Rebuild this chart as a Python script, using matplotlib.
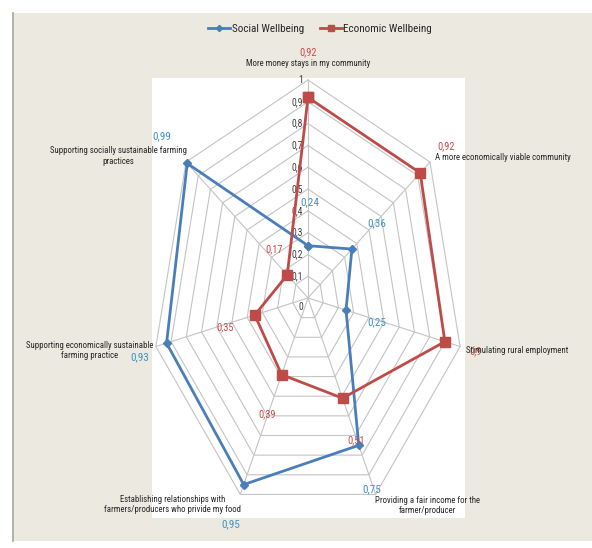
import numpy as np
import matplotlib
matplotlib.use("Agg")
import matplotlib.pyplot as plt
from matplotlib.patches import Rectangle
from matplotlib.lines import Line2D
from matplotlib import font_manager

avail = {f.name for f in font_manager.fontManager.ttflist}
fam = [f for f in ['Liberation Sans Narrow', 'DejaVu Sans Condensed', 'Roboto Condensed',
                   'Open Sans Condensed'] if f in avail]
plt.rcParams['font.family'] = fam + ['DejaVu Sans']

categories = [
    "More money stays in my community",
    "A more economically viable community",
    "Stimulating rural employment",
    "Providing a fair income for the\nfarmer/producer",
    "Establishing relationships with\nfarmers/producers who privide my food",
    "Supporting economically sustainable\nfarming practice",
    "Supporting socially sustainable farming\npractices",
]
social = [0.24, 0.36, 0.25, 0.75, 0.95, 0.93, 0.99]
economic = [0.92, 0.92, 0.90, 0.51, 0.39, 0.35, 0.17]
series_names = ["Social Wellbeing", "Economic Wellbeing"]
r_ticks = [0, 0.1, 0.2, 0.3, 0.4, 0.5, 0.6, 0.7, 0.8, 0.9, 1.0]

# label offsets (pixels)
social_lbl_off = [(2, 43), (25, 26), (31, -12), (13, -44), (-13, -40), (-27, -14), (-26, 27)]
econ_lbl_off = [(0, 45), (26, 27), (31, -10), (14, -42), (-14, -40), (-30, -12), (-13, 26)]
cat_lbl_off = [((0, 17), 'center'), ((5, 5), 'left'), ((6, -4), 'left'),
               ((52, -11), 'center'), ((-68, -10), 'center'), ((-66, -4), 'center'),
               ((-68, 6), 'center')]

W, H = 592, 548
fig = plt.figure(figsize=(W / 100, H / 100), dpi=100)
fig.patch.set_facecolor('white')

def fx(x):
    return x / W

def fy(y):
    return 1 - y / H

beige = '#ECE9E0'
fig.patches.append(Rectangle((fx(12), fy(541)), fx(592) - fx(12), fy(13) - fy(541),
                             transform=fig.transFigure, facecolor=beige, edgecolor='none', zorder=-5))
fig.lines.append(Line2D([fx(12.5), fx(12.5)], [fy(541), fy(13)], transform=fig.transFigure,
                        color='#A8A8A0', lw=1.2, zorder=-4))
fig.patches.append(Rectangle((fx(152), fy(518)), fx(465) - fx(152), fy(78) - fy(518),
                             transform=fig.transFigure, facecolor='white', edgecolor='none', zorder=-4))

cx, cy, sx, sy = 308, 298, 156, 218
ax = fig.add_axes([fx(cx - sx), fy(cy + sy), fx(2 * sx), fy(cy - sy) - fy(cy + sy)],
                  projection='polar')
ax.set_aspect('auto')
ax.set_theta_zero_location('N')
ax.set_theta_direction(-1)
ax.set_ylim(0, 1)
ax.grid(False)
ax.set_xticks([])
ax.set_yticks([])
ax.spines['polar'].set_visible(False)
ax.patch.set_visible(False)

n = len(categories)
theta = np.arange(n) * 2 * np.pi / n
theta_c = np.append(theta, theta[0])

grid_col = '#C4C4C4'
for r in r_ticks[1:]:
    ax.plot(theta_c, [r] * (n + 1), color=grid_col, lw=0.8, zorder=1, clip_on=False)
for t in theta:
    ax.plot([t, t], [0, 1], color=grid_col, lw=0.8, zorder=1, clip_on=False)

for r in r_ticks:
    lab = ('%g' % r).replace('.', ',')
    ax.annotate(lab, xy=(0, r), xytext=(-5, -9 if r == 0 else 0), textcoords='offset pixels',
                ha='right', va='center', fontsize=7, color='#404040', zorder=3,
                annotation_clip=False)

blue = '#4A7EBB'
red = '#BE4B48'
blue_lbl = '#3E93C4'
red_lbl = '#CC4A4A'

ax.plot(theta_c, social + social[:1], color=blue, lw=2, marker='D', ms=4.5,
        label=series_names[0], zorder=4, clip_on=False)
ax.plot(theta_c, economic + economic[:1], color=red, lw=2, marker='s', ms=6.5,
        label=series_names[1], zorder=4, clip_on=False)

for i in range(n):
    ax.annotate(('%g' % social[i]).replace('.', ','), xy=(theta[i], social[i]),
                xytext=social_lbl_off[i], textcoords='offset pixels', ha='center', va='center',
                fontsize=8, color=blue_lbl, zorder=5, annotation_clip=False)
    ax.annotate(('%g' % economic[i]).replace('.', ','), xy=(theta[i], economic[i]),
                xytext=econ_lbl_off[i], textcoords='offset pixels', ha='center', va='center',
                fontsize=7.5, color=red_lbl, zorder=5, annotation_clip=False)
    off, ha = cat_lbl_off[i]
    ax.annotate(categories[i], xy=(theta[i], 1), xytext=off, textcoords='offset pixels',
                ha=ha, va='center', ma='center', fontsize=6.3, color='#262626', zorder=5,
                linespacing=1.2, annotation_clip=False)

fig.legend(loc='center', bbox_to_anchor=(fx(320), fy(29)), ncol=2, frameon=False,
           fontsize=8, handlelength=2.0, handletextpad=0.15, columnspacing=1.4,
           markerscale=0.7, labelcolor='#262626')

fig.savefig('out.png', dpi=100, facecolor='white')
